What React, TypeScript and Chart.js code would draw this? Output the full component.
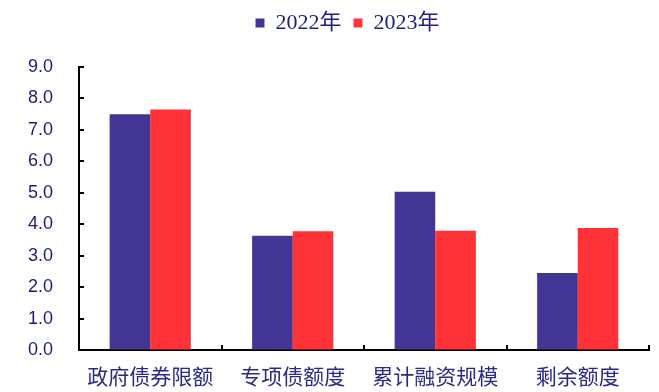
import React, { useEffect, useRef } from "react";
import { Chart, registerables } from "chart.js";

Chart.register(...registerables);

const categories = ["政府债券限额", "专项债额度", "累计融资规模", "剩余额度"];
const series2022 = [7.5, 3.63, 5.03, 2.45];
const series2023 = [7.65, 3.78, 3.79, 3.88];
const seriesLabels = ["2022年", "2023年"];
const yMin = 0;
const yMax = 9;
const yStep = 1;

const inwardTicks = {
  id: "inwardTicks",
  afterLayout(chart: any) {
    const l = chart.legend;
    if (l) {
      l.left += 9;
      l.right += 9;
      l.top -= 23;
      l.bottom -= 23;
    }
  },
  afterDraw(chart: any) {
    const { ctx, chartArea } = chart;
    const y = chart.scales.y;
    const x = chart.scales.x;
    ctx.save();
    ctx.strokeStyle = "#000";
    ctx.lineWidth = 2;
    ctx.beginPath();
    y.ticks.forEach((t: any) => {
      const py = Math.round(y.getPixelForValue(t.value));
      ctx.moveTo(chartArea.left, py);
      ctx.lineTo(chartArea.left + 5, py);
    });
    for (let i = 0; i < categories.length; i++) {
      const px = Math.round(x.getPixelForValue(i + 0.5));
      ctx.moveTo(px, chartArea.bottom);
      ctx.lineTo(px, chartArea.bottom - 5);
    }
    ctx.stroke();
    ctx.restore();
  },
};

export default function App() {
  const ref = useRef<HTMLCanvasElement>(null);
  useEffect(() => {
    document.body.style.margin = "0";
    const chart = new Chart(ref.current!, {
      type: "bar",
      data: {
        labels: categories,
        datasets: [
          { label: seriesLabels[0], data: series2022, backgroundColor: "#433594" },
          { label: seriesLabels[1], data: series2023, backgroundColor: "#FF3337" },
        ],
      },
      options: {
        animation: false,
        responsive: false,
        maintainAspectRatio: false,
        layout: { padding: { left: 28, right: 10, top: 23, bottom: 4 } },
        datasets: { bar: { categoryPercentage: 0.57, barPercentage: 1.0 } },
        plugins: {
          legend: {
            position: "top",
            labels: {
              boxWidth: 9,
              boxHeight: 9,
              padding: 12,
              color: "#20207a",
              font: { family: "'Liberation Serif', 'Noto Sans CJK SC'", size: 22 },
            },
          },
          tooltip: { enabled: false },
        },
        scales: {
          x: {
            afterFit: (s: any) => {
              s.paddingLeft = 0;
              s.paddingRight = 0;
              s.height = 38;
            },
            grid: { display: true, drawOnChartArea: false, drawTicks: false },
            border: { display: true, color: "#000", width: 2 },
            ticks: {
              color: "#2a2a85",
              padding: 13,
              maxRotation: 0,
              font: { family: "'Noto Sans CJK SC'", size: 21 },
            },
          },
          y: {
            min: yMin,
            max: yMax,
            afterFit: (s: any) => {
              s.width = 51;
              s.paddingTop = 0;
              s.paddingBottom = 0;
            },
            grid: { display: true, drawOnChartArea: false, drawTicks: false },
            border: { display: true, color: "#000", width: 2 },
            ticks: {
              stepSize: yStep,
              padding: 26,
              color: "#1c1c78",
              callback: (v: any) => Number(v).toFixed(1),
              font: { family: "'Liberation Sans', Arial, sans-serif", size: 18 },
            },
          },
        },
      },
      plugins: [inwardTicks],
    });
    return () => chart.destroy();
  }, []);
  return <canvas ref={ref} width={659} height={392} style={{ display: "block" }} />;
}
